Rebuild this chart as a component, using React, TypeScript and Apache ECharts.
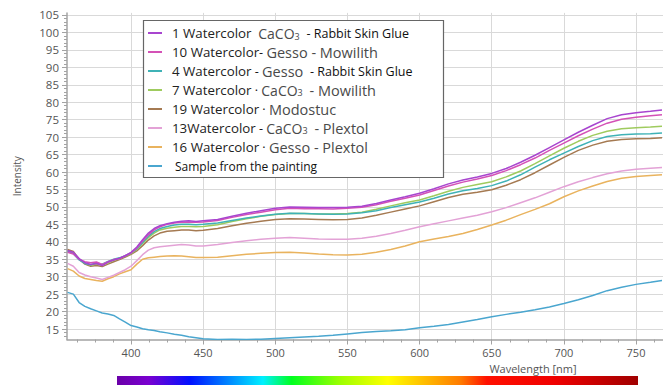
import React, { useEffect, useRef } from "react";
import * as echarts from "echarts";

const wavelengths = [356, 360, 364, 368, 372, 376, 380, 384, 388, 392, 396, 400, 404, 408, 412, 416, 420, 425, 430, 435, 440, 445, 450, 460, 470, 480, 490, 500, 510, 520, 530, 540, 550, 560, 570, 580, 590, 600, 610, 620, 630, 640, 650, 660, 670, 680, 690, 700, 710, 720, 730, 740, 750, 760, 768];

const s1 = [37.5, 37.0, 35.2, 34.0, 33.5, 33.8, 33.2, 34.2, 34.8, 35.3, 36.0, 37.0, 38.5, 40.6, 42.5, 43.8, 44.6, 45.2, 45.6, 45.9, 46.0, 45.8, 46.0, 46.4, 47.3, 48.2, 48.9, 49.6, 50.0, 49.9, 49.8, 49.8, 49.9, 50.2, 51.0, 52.0, 52.9, 53.9, 55.2, 56.6, 57.7, 58.6, 59.6, 61.0, 62.8, 64.8, 67.0, 69.2, 71.4, 73.4, 75.3, 76.4, 77.0, 77.4, 77.8];
const s10 = [37.0, 36.5, 35.0, 34.3, 34.0, 34.2, 33.5, 34.3, 34.9, 35.2, 36.0, 36.8, 38.2, 40.2, 42.0, 43.4, 44.3, 45.0, 45.4, 45.6, 45.7, 45.6, 45.7, 46.1, 47.0, 47.8, 48.5, 49.2, 49.6, 49.5, 49.5, 49.4, 49.6, 49.9, 50.6, 51.6, 52.5, 53.4, 54.7, 56.0, 57.1, 58.0, 59.0, 60.4, 62.1, 64.0, 66.2, 68.3, 70.4, 72.3, 74.0, 75.1, 75.7, 76.1, 76.4];
const s4 = [37.2, 36.6, 34.8, 33.8, 33.4, 33.9, 33.6, 34.4, 35.0, 35.4, 36.0, 36.8, 38.0, 39.8, 41.6, 42.9, 43.8, 44.4, 44.8, 45.0, 45.0, 44.9, 45.0, 45.4, 46.1, 46.8, 47.4, 47.9, 48.2, 48.1, 48.0, 47.9, 48.0, 48.3, 48.9, 49.8, 50.6, 51.4, 52.5, 53.7, 54.6, 55.3, 56.1, 57.4, 59.2, 61.4, 63.5, 65.4, 67.3, 69.0, 70.2, 70.7, 70.9, 71.0, 71.2];
const s7 = [37.4, 36.8, 35.0, 33.9, 33.3, 33.6, 33.3, 34.0, 34.7, 35.2, 35.9, 36.6, 37.8, 39.5, 41.2, 42.5, 43.4, 43.9, 44.2, 44.4, 44.4, 44.3, 44.4, 44.9, 45.8, 46.6, 47.3, 47.8, 48.1, 48.1, 48.0, 48.0, 48.1, 48.5, 49.3, 50.3, 51.2, 52.0, 53.2, 54.5, 55.6, 56.4, 57.2, 58.6, 60.3, 62.4, 64.6, 66.8, 68.8, 70.5, 71.7, 72.4, 72.7, 72.9, 73.1];
const s19 = [37.8, 37.2, 35.0, 33.6, 33.0, 33.2, 32.9, 33.6, 34.3, 34.9, 35.6, 36.4, 37.4, 38.9, 40.5, 41.7, 42.5, 43.0, 43.2, 43.4, 43.4, 43.2, 43.3, 43.8, 44.6, 45.3, 45.9, 46.4, 46.6, 46.5, 46.4, 46.3, 46.4, 46.8, 47.6, 48.5, 49.4, 50.3, 51.5, 52.7, 53.6, 54.2, 54.9, 56.2, 57.8, 59.8, 62.0, 64.2, 66.2, 67.7, 68.8, 69.3, 69.5, 69.6, 69.8];
const s13 = [33.8, 33.0, 31.2, 30.5, 30.0, 29.6, 29.2, 29.8, 30.4, 31.2, 32.0, 33.0, 34.6, 36.3, 37.6, 38.3, 38.6, 38.8, 39.0, 39.2, 39.1, 38.8, 38.8, 39.2, 39.8, 40.3, 40.7, 41.0, 41.2, 41.0, 40.8, 40.7, 40.7, 41.0, 41.6, 42.4, 43.3, 44.3, 45.2, 46.0, 46.8, 47.6, 48.6, 49.8, 51.2, 52.6, 54.2, 55.8, 57.2, 58.4, 59.5, 60.3, 60.8, 61.1, 61.3];
const s16 = [32.3, 31.6, 30.2, 29.5, 29.2, 28.9, 28.7, 29.4, 30.0, 30.8, 31.4, 32.0, 33.6, 35.0, 35.4, 35.6, 35.8, 35.9, 36.0, 35.9, 35.7, 35.5, 35.5, 35.6, 36.0, 36.4, 36.7, 36.9, 37.0, 36.8, 36.5, 36.3, 36.2, 36.4, 37.0, 37.8, 38.8, 40.0, 40.8, 41.5, 42.4, 43.5, 44.8, 46.2, 47.8, 49.3, 50.9, 52.9, 54.6, 56.0, 57.3, 58.2, 58.7, 59.0, 59.2];
const sample = [25.5, 25.0, 22.6, 21.5, 20.8, 20.2, 19.6, 19.3, 18.9, 17.9, 17.0, 16.0, 15.6, 15.1, 14.8, 14.6, 14.2, 13.9, 13.5, 13.2, 12.8, 12.5, 12.2, 12.0, 12.1, 12.0, 12.1, 12.3, 12.5, 12.7, 12.9, 13.2, 13.6, 14.0, 14.3, 14.5, 14.8, 15.4, 15.8, 16.3, 17.0, 17.7, 18.5, 19.2, 19.8, 20.5, 21.3, 22.3, 23.4, 24.6, 26.0, 27.0, 27.8, 28.4, 28.9];

const seriesNames = [
  "1 Watercolor CaCO3 - Rabbit Skin Glue",
  "10 Watercolor - Gesso - Mowilith",
  "4 Watercolor - Gesso - Rabbit Skin Glue",
  "7 Watercolor CaCO3 - Mowilith",
  "19 Watercolor - Modostuc",
  "13 Watercolor - CaCO3 - Plextol",
  "16 Watercolor - Gesso - Plextol",
  "Sample from the painting",
];
const legendRich = [
  "{a|1 Watercolor}  {b1|CaCO}{s1|3}  {c|- Rabbit Skin Glue}",
  "{a|10 Watercolor}{c|- }{b|Gesso - Mowilith}",
  "{a|4 Watercolor}{c| - }{b|Gesso}  {c|- Rabbit Skin Glue}",
  "{a|7 Watercolor}{c| · }{b1|CaCO}{s|3}  {b|- Mowilith}",
  "{a|19 Watercolor}{c| · }{b|Modostuc}",
  "{a|13Watercolor}{c| - }{b1|CaCO}{s|3}  {b|- Plextol}",
  "{a|16 Watercolor}{c| · }{b|Gesso - Plextol}",
  "{d|Sample from the painting}",
];
const seriesValues = [s1, s10, s4, s7, s19, s13, s16, sample];
const colors = ["#a845cf", "#d451b6", "#3fb2b6", "#9fcb5e", "#a57a52", "#e3a2d6", "#e9b35e", "#4aa6cf"];

const xTicks = [400, 450, 500, 550, 600, 650, 700, 750];
const yTicks = [15, 20, 25, 30, 35, 40, 45, 50, 55, 60, 65, 70, 75, 80, 85, 90, 95, 100, 105];
const X_MIN = 355.6;
const X_MAX = 768.7;
const Y_MIN = 12;
const Y_MAX = 105.6;

const xMinor: number[] = [];
for (let v = 362.5; v <= 765; v += 12.5) xMinor.push(v);
const yMinor: number[] = [];
for (let v = 13; v <= 105; v += 1) yMinor.push(v);

const FONT = "Open Sans";

export default function App() {
  const ref = useRef<HTMLDivElement>(null);
  useEffect(() => {
    const chart = echarts.init(ref.current!, null, { renderer: "svg" });
    const axisGray = "#a3a3a3";
    chart.setOption({
      animation: false,
      backgroundColor: "#ffffff",
      grid: { left: 67, right: 0, top: 12.9, bottom: 45.5, containLabel: false },
      xAxis: [
        {
          type: "value",
          min: X_MIN,
          max: X_MAX,
          position: "bottom",
          axisLine: { show: true, lineStyle: { color: axisGray, width: 1.5 } },
          axisTick: { show: true, customValues: xTicks, length: 5, lineStyle: { color: axisGray } },
          axisLabel: { customValues: xTicks, color: "#555", fontSize: 11, fontFamily: FONT, margin: 7 },
          splitLine: { show: true, lineStyle: { color: "#d9d9d9", width: 1 } },
        },
        {
          type: "value",
          min: X_MIN,
          max: X_MAX,
          position: "bottom",
          axisLine: { show: false },
          axisTick: { show: true, customValues: xMinor, length: 3, lineStyle: { color: axisGray } },
          axisLabel: { show: false },
          splitLine: { show: false },
        },
      ],
      yAxis: [
        {
          type: "value",
          min: Y_MIN,
          max: Y_MAX,
          position: "left",
          name: "Intensity",
          nameLocation: "middle",
          nameGap: 45,
          nameTextStyle: { color: "#555", fontSize: 10, fontFamily: FONT },
          axisLine: { show: true, lineStyle: { color: axisGray, width: 1.5 } },
          axisTick: { show: true, customValues: yTicks, length: 5, lineStyle: { color: axisGray } },
          axisLabel: { customValues: yTicks, color: "#555", fontSize: 11.5, fontFamily: FONT, margin: 8 },
          splitLine: { show: true, lineStyle: { color: "#d9d9d9", width: 1 } },
        },
        {
          type: "value",
          min: Y_MIN,
          max: Y_MAX,
          position: "left",
          axisLine: { show: false },
          axisTick: { show: true, customValues: yMinor, length: 3, lineStyle: { color: axisGray } },
          axisLabel: { show: false },
          splitLine: { show: false },
        },
      ],
      legend: {
        orient: "vertical",
        left: 148,
        top: 23.5,
        padding: 0,
        itemGap: 0,
        itemWidth: 14,
        itemHeight: 2,
        icon: "rect",
        selectedMode: false,
        data: seriesNames,
        formatter: (name: string) => legendRich[seriesNames.indexOf(name)],
        textStyle: {
          fontFamily: FONT,
          fontSize: 13,
          color: "#222",
          lineHeight: 19,
          padding: [0, 0, 0, 5],
          rich: {
            a: { fontFamily: FONT, fontSize: 13.3, color: "#222", lineHeight: 19 },
            b: { fontFamily: FONT, fontSize: 14.5, color: "#4a4a4a", lineHeight: 19 },
            b1: { fontFamily: FONT, fontSize: 14, color: "#4a4a4a", lineHeight: 19 },
            c: { fontFamily: FONT, fontSize: 12.5, color: "#111", lineHeight: 19 },
            d: { fontFamily: FONT, fontSize: 12, color: "#111", lineHeight: 19, padding: [0, 0, 0, 3] },
            s1: { fontFamily: FONT, fontSize: 9, color: "#4a4a4a", lineHeight: 9, padding: [6, 0, 0, 0], verticalAlign: "middle" },
            s: { fontFamily: FONT, fontSize: 9, color: "#4a4a4a", lineHeight: 9, padding: [5, 0, 0, 0], verticalAlign: "middle" },
          },
        },
      },
      graphic: [
        {
          type: "rect",
          z: 3,
          shape: { x: 143.5, y: 20.5, width: 300, height: 157 },
          style: { fill: "#ffffff", stroke: "#666", lineWidth: 1.2 },
        },
        {
          type: "text",
          z: 5,
          x: 533,
          y: 368.5,
          style: { text: "Wavelength [nm]", fill: "#555", fontSize: 11, fontFamily: FONT, align: "center", verticalAlign: "middle" },
        },
        {
          type: "rect",
          z: 5,
          shape: { x: 117, y: 376, width: 521, height: 12 },
          style: {
            fill: new echarts.graphic.LinearGradient(0, 0, 1, 0, [
              { offset: 0, color: "#6a00a8" },
              { offset: 0.06, color: "#7a00d0" },
              { offset: 0.14, color: "#0010ff" },
              { offset: 0.28, color: "#00f0ff" },
              { offset: 0.335, color: "#00ff20" },
              { offset: 0.43, color: "#a0ff00" },
              { offset: 0.52, color: "#ffff00" },
              { offset: 0.66, color: "#ff7a00" },
              { offset: 0.71, color: "#ff1000" },
              { offset: 0.84, color: "#f00000" },
              { offset: 1, color: "#a00000" },
            ]),
          },
        },
      ],
      series: seriesNames.map((name, i) => ({
        name,
        type: "line",
        xAxisIndex: 0,
        yAxisIndex: 0,
        showSymbol: false,
        symbol: "none",
        z: 2 + (seriesNames.length - i) * 0.01,
        color: colors[i],
        lineStyle: { width: 1.5, color: colors[i] },
        data: wavelengths.map((w, j) => [w, seriesValues[i][j]]),
      })),
    });
    return () => chart.dispose();
  }, []);
  return <div ref={ref} style={{ position: "fixed", left: 0, top: 0, width: 663, height: 385 }} />;
}
